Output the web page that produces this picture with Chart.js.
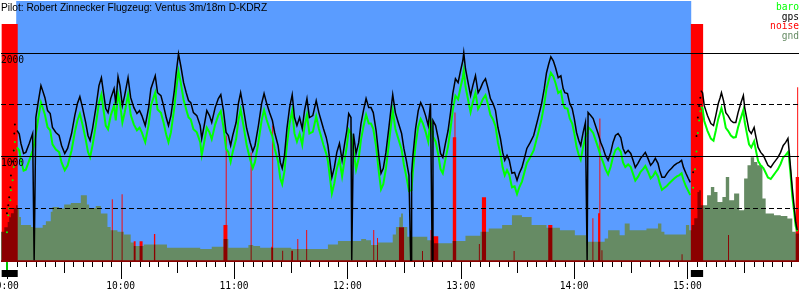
<!DOCTYPE html>
<html>
<head>
<meta charset="utf-8">
<script src="https://cdn.jsdelivr.net/npm/chart.js@4"></script>
<style>
  html, body { margin: 0; padding: 0; background: #fff; }
  #wrap { width: 800px; height: 300px; }
</style>
</head>
<body>
<div id="wrap"><canvas id="baro"></canvas></div>
<script>
// ===== DATA (time in minutes after midnight, altitude in m) =====
const times = [
  539.8,540.5,541.0,541.6,541.9,542.8,543.4,543.7,544.0,545.1,
  546.3,547.2,548.6,549.8,551.6,553.4,554.2,555.1,556.3,557.8,
  558.7,559.9,561.3,562.7,563.9,565.7,567.4,568.7,570.4,571.9,
  574.0,575.7,577.1,578.4,579.8,581.5,582.7,583.8,585.1,586.8,
  588.5,589.8,590.9,592.1,593.3,594.7,596.5,597.4,598.6,599.6,
  600.9,602.1,603.9,605.3,607.0,608.6,610.0,611.2,613.0,614.8,
  616.0,618.3,619.5,621.3,622.7,624.1,625.3,626.6,628.4,629.4,
  630.6,631.8,633.3,634.7,635.9,637.1,638.5,640.3,642.1,642.9,
  644.2,645.6,647.0,648.2,650.0,651.7,653.0,654.4,655.8,657.0,
  658.2,659.3,661.1,662.3,663.5,664.9,666.7,668.5,669.9,671.1,
  672.9,674.6,675.9,677.3,678.8,680.3,681.5,683.3,684.5,685.5,
  686.7,688.0,689.4,690.8,692.0,693.3,694.7,696.1,697.3,698.6,
  699.9,701.7,703.5,704.9,706.1,707.3,708.8,709.7,710.9,711.8,
  713.1,714.4,715.8,717.2,718.4,719.7,720.7,721.9,722.3,723.2,
  724.6,726.0,727.2,728.5,729.9,731.3,732.5,733.7,735.2,736.6,
  737.8,739.0,740.4,741.9,743.1,744.0,745.4,746.6,748.7,749.9,
  751.2,752.6,753.5,753.8,754.0,754.7,756.1,757.5,758.8,760.0,
  761.4,762.8,764.0,764.9,765.3,766.7,768.1,769.3,770.5,771.9,
  773.3,774.6,775.8,777.2,778.6,779.9,781.1,781.6,782.5,783.9,
  785.2,786.4,787.8,789.2,790.4,791.7,793.1,794.5,795.7,797.1,
  798.4,799.7,801.0,802.2,803.3,804.5,805.7,807.1,808.5,809.8,
  811.0,812.4,813.8,815.0,816.8,818.6,821.0,822.8,824.2,825.4,
  826.6,827.7,829.0,830.2,831.6,833.0,834.2,835.1,836.5,837.7,
  839.0,840.1,841.3,842.5,843.5,844.8,846.0,846.9,847.1,847.4,
  848.8,850.1,851.3,852.7,854.1,855.4,856.6,858.0,859.4,860.6,
  861.9,863.3,864.7,865.9,867.1,868.6,870.0,871.2,872.4,873.8,
  875.2,876.5,877.7,879.1,880.5,881.8,883.0,884.4,885.3,886.5,
  887.9,889.2,890.4,891.6,893.0,894.4,895.6,896.9,897.9,899.2,
  900.4,901.5,903.0,904.0,904.8,905.5,906.2,906.8,907.1,908.0,
  908.9,910.6,912.4,913.8,915.0,916.3,917.3,918.0,919.1,920.3,
  921.5,923.0,924.3,925.6,926.8,928.2,929.6,930.3,931.4,932.6,
  933.8,935.3,936.1,937.4,938.8,940.2,941.4,942.6,944.1,945.5,
  946.7,947.9,949.3,950.7,952.0,953.2,953.7,954.6,955.5,956.4,
  957.3,958.1
];
const gps = [
  455,532,609,705,820,955,1061,1224,1311,1253,
  1221,1128,1032,1042,1128,1224,0,1378,1522,1686,
  1638,1570,1445,1417,1282,1234,1205,1109,1032,1080,
  1224,1397,1513,1580,1474,1330,1205,1157,1272,1465,
  1686,1763,1618,1465,1426,1561,1657,1513,1772,1686,
  1493,1590,1763,1570,1474,1417,1445,1397,1301,1474,
  1657,1782,1618,1590,1493,1378,1301,1397,1638,1811,
  1993,1878,1715,1618,1542,1522,1426,1397,1301,1176,
  1301,1445,1397,1330,1474,1561,1599,1445,1234,1205,
  1109,1205,1330,1513,1618,1474,1272,1138,1051,1109,
  1301,1513,1609,1513,1426,1349,1234,1109,945,888,
  1013,1272,1474,1599,1378,1301,1378,1272,1445,1561,
  1378,1397,1542,1426,1349,1272,1186,1109,936,801,
  897,1042,1128,965,1109,1253,1416,1378,0,1224,
  1032,1138,1320,1445,1561,1474,1474,1426,1253,1013,
  840,888,1042,1272,1465,1599,1426,1349,1224,1080,
  965,820,0,0,840,1013,1272,1445,1522,1474,
  1397,1301,1513,0,1349,1301,1176,1032,993,1128,
  1253,1426,1609,1753,1715,1830,1926,2003,1849,1715,
  1590,1686,1782,1618,1657,1715,1753,1657,1561,1513,
  1445,1282,1176,1042,965,1013,965,840,849,772,
  840,897,993,1080,1138,1205,1378,1513,1657,1811,
  1897,1965,1926,1859,1763,1782,1657,1618,1609,1513,
  1465,1368,1234,1157,1109,1234,1330,0,0,1426,
  1397,1368,1301,1224,1138,1080,1013,965,1042,1138,
  1205,1224,1186,1080,1032,1061,1032,965,897,936,
  984,1013,1042,984,917,945,984,936,868,801,
  801,840,868,888,917,936,945,965,897,840,
  792,753,850,1000,1200,1378,1490,1570,1638,1618,
  1493,1397,1320,1301,1397,1513,1570,1618,1542,1426,
  1397,1349,1330,1330,1426,1513,1590,1474,1368,1253,
  1224,1282,1205,1090,1042,1013,965,917,897,936,
  965,993,1042,1109,1138,1176,1080,888,695,532,
  368,292
];
const baro = [
  270,436,500,580,676,772,900,1060,1141,1090,
  1060,965,865,875,965,1060,1120,1215,1360,1525,
  1475,1405,1285,1255,1120,1070,1045,945,870,915,
  1060,1235,1350,1415,1310,1165,1045,995,1110,1300,
  1520,1600,1455,1300,1265,1395,1495,1350,1610,1520,
  1330,1425,1600,1405,1310,1255,1280,1235,1140,1310,
  1495,1620,1455,1425,1330,1215,1140,1235,1475,1650,
  1825,1715,1550,1455,1380,1360,1265,1235,1140,1015,
  1140,1280,1235,1170,1310,1400,1440,1285,1075,1045,
  950,1045,1170,1350,1455,1310,1110,975,890,950,
  1140,1350,1450,1355,1270,1195,1080,955,790,735,
  860,1115,1320,1445,1225,1145,1225,1115,1290,1405,
  1225,1240,1390,1270,1195,1115,1030,955,780,645,
  745,885,975,810,955,1100,1260,1225,1180,1070,
  875,985,1165,1290,1405,1320,1320,1270,1100,860,
  685,735,885,1115,1310,1445,1270,1195,1070,925,
  810,670,675,680,690,860,1115,1290,1365,1320,
  1240,1145,1355,1250,1195,1145,1020,880,840,975,
  1100,1270,1450,1590,1555,1670,1765,1830,1680,1550,
  1430,1525,1620,1460,1500,1555,1595,1500,1405,1360,
  1295,1135,1030,895,820,870,825,705,715,640,
  705,760,855,940,995,1060,1230,1365,1505,1655,
  1740,1810,1775,1710,1615,1635,1510,1470,1465,1370,
  1320,1225,1095,1015,970,1095,1190,1230,1240,1285,
  1260,1230,1165,1090,1005,945,880,830,905,1000,
  1065,1085,1050,945,900,925,900,835,770,805,
  855,880,910,855,790,815,855,810,745,680,
  700,720,745,765,790,810,820,840,775,715,
  670,630,700,880,1050,1230,1350,1440,1480,1470,
  1345,1250,1175,1155,1250,1365,1425,1470,1395,1280,
  1250,1205,1185,1190,1285,1370,1450,1335,1230,1120,
  1090,1150,1075,960,915,890,845,800,785,820,
  850,880,930,995,1015,1045,1000,830,620,480,
  330,280
];

// terrain below the track (stepped)
const gndT = [
  536.6,538.4,540.2,541.0,541.9,543.4,544.6,545.5,546.3,547.2,
  552.5,554.1,558.7,560.4,563.0,563.9,567.4,570.1,573.6,578.9,
  582.1,583.3,586.8,589.5,593.0,594.7,598.3,601.7,605.3,606.9,
  612.2,624.5,642.1,648.2,654.4,657.0,667.6,670.2,673.8,690.3,
  709.7,715.0,727.3,729.9,732.5,736.1,744.0,745.7,747.5,748.4,
  749.4,751.7,762.3,765.8,775.5,782.5,790.4,794.8,801.9,807.1,
  812.4,817.5,825.4,832.5,840.4,846.6,856.2,858.0,864.1,866.8,
  869.4,878.3,884.4,886.2,887.8,899.2,900.9,902.2,903.6,905.3,
  906.2,907.1,910.4,912.4,914.2,915.9,918.5,920.3,922.1,924.7,
  927.4,930.0,931.8,933.5,935.3,937.0,939.7,941.4,945.8,949.4,
  952.9,955.5,957.3,959.1
];
const gndV = [
  275,320,369,417,455,506,532,500,419,340,
  323,314,340,378,468,516,500,539,554,628,
  539,506,525,452,323,291,275,250,173,138,
  154,121,109,131,205,121,147,138,121,109,
  154,186,205,195,147,173,250,323,417,452,
  323,227,195,164,186,237,275,308,340,436,
  419,340,314,291,243,179,212,291,243,356,
  291,308,356,275,250,340,291,340,407,660,
  676,532,628,708,660,564,612,804,580,644,
  484,789,917,996,948,917,596,452,436,429,
  404,275,260,260
];

// engine noise level (stepped, 0..1000)
const noiseT = [
  536.6,537.0,545.5,595.3,595.8,600.5,601.0,606.9,607.9,610.0,
  611.6,617.6,618.3,654.4,655.6,656.1,656.5,668.8,669.3,679.7,
  680.2,680.7,685.5,686.0,690.3,691.2,693.5,694.0,698.2,698.7,
  733.7,734.2,735.7,736.2,747.3,750.0,759.5,760.0,764.0,765.3,
  768.1,775.8,776.7,777.2,777.6,789.6,790.1,791.2,793.4,808.0,
  808.5,826.3,828.5,849.7,850.2,852.7,853.4,853.9,854.5,855.0,
  896.9,897.4,901.8,908.3,921.5,922.0,957.3,958.1,958.6,959.1
];
const noiseV = [
  0,1000,0,258,0,279,0,81,0,81,
  0,111,0,149,528,149,0,456,0,57,
  570,0,40,0,40,0,90,0,128,0,
  128,0,94,0,140,0,39,0,128,102,
  0,520,625,520,0,69,0,267,0,39,
  0,149,0,178,0,199,600,0,43,0,
  26,0,1000,0,107,0,352,732,352,352
];

const dotRanges = [[539, 544.5], [902.5, 907]];   // sparse fixes while engine runs
const engineRuns = [[537.0, 545.5], [901.8, 908.3]];
const flightSpan = [544.7, 902.0];
const takeoff = 539.8;
const altGrid = [500, 1000, 1500, 2000];
const altLabels = [1000, 2000];
const legendKeys = ["baro", "gps", "noise", "gnd"];
const title = "Pilot: Robert Zinnecker Flugzeug: Ventus 3m/18m D-KDRZ";

// ===== CHART =====
const MONO = '9.6px "DejaVu Sans Mono"';
const pts = (xs, ys) => xs.map((x, i) => ({ x, y: ys[i] }));
const inDots = t => dotRanges.some(r => t >= r[0] && t <= r[1]);

function trace(label, vals, color, width, order) {
  return {
    label, data: pts(times, vals), yAxisID: "y", order,
    borderColor: color, borderWidth: width, tension: 0,
    pointRadius: c => (c.raw && inDots(c.raw.x) ? 1 : 0),
    pointBackgroundColor: color, pointBorderWidth: 0, pointHoverRadius: 0,
    segment: {
      borderColor: c => (inDots(c.p0.parsed.x) || inDots(c.p1.parsed.x) ? "transparent" : undefined)
    }
  };
}
function area(label, xs, ys, color, axis, order) {
  return {
    label, data: pts(xs, ys), yAxisID: axis, order,
    stepped: true, fill: "start", backgroundColor: color,
    borderWidth: 0, pointRadius: 0
  };
}

// gnd first, then dark noise only on gnd, then red noise behind everything
const layerOps = { 4: "source-atop", 3: "destination-over", 2: "source-over" };

const decor = {
  id: "decor",
  afterDatasetDraw(chart, args) {
    if (layerOps[args.index]) chart.ctx.globalCompositeOperation = layerOps[args.index];
  },
  afterDatasetsDraw(chart) {
    const { ctx, chartArea: a, scales: { x } } = chart;
    const x0 = x.getPixelForValue(flightSpan[0]);
    const x1 = x.getPixelForValue(flightSpan[1]);
    ctx.save();
    ctx.globalCompositeOperation = "destination-over";
    ctx.fillStyle = "#5a9cff";
    ctx.fillRect(x0, a.top, x1 - x0, a.bottom - a.top);
    ctx.restore();
  },
  afterDraw(chart) {
    const { ctx, chartArea: a, scales: { x, y } } = chart;
    ctx.save();

    // time ticks: 5 min / 30 min / hour
    ctx.strokeStyle = "#000";
    ctx.lineWidth = 1;
    ctx.beginPath();
    for (let t = Math.ceil(x.min / 5) * 5; t <= x.max; t += 5) {
      const px = Math.round(x.getPixelForValue(t)) + 0.5;
      const len = t % 60 === 0 ? 17 : t % 30 === 0 ? 11 : 5;
      ctx.moveTo(px, a.bottom);
      ctx.lineTo(px, a.bottom + len);
    }
    ctx.stroke();

    ctx.font = MONO;
    ctx.fillStyle = "#000";
    ctx.textAlign = "center";
    ctx.textBaseline = "middle";
    for (let t = Math.ceil(x.min / 60) * 60; t <= x.max; t += 60) {
      ctx.fillText(`${t / 60}:00`, x.getPixelForValue(t), a.bottom + 24);
    }

    // engine run markers and takeoff
    engineRuns.forEach(([s, e]) => {
      const p0 = x.getPixelForValue(s), p1 = x.getPixelForValue(e);
      ctx.fillRect(p0, a.bottom + 8, p1 - p0, 7);
    });
    ctx.strokeStyle = "#00c800";
    ctx.lineWidth = 2;
    ctx.beginPath();
    const tp = Math.round(x.getPixelForValue(takeoff));
    ctx.moveTo(tp, a.bottom);
    ctx.lineTo(tp, a.bottom + 8);
    ctx.stroke();

    // altitude labels
    ctx.textAlign = "left";
    altLabels.forEach(v => ctx.fillText(String(v), 1, y.getPixelForValue(v) + 7));

    // legend
    ctx.textAlign = "right";
    ctx.textBaseline = "alphabetic";
    legendKeys.forEach((k, i) => {
      const ds = chart.data.datasets.find(d => d.label === k);
      ctx.fillStyle = ds.borderWidth ? ds.borderColor : ds.backgroundColor;
      ctx.fillText(k, 799, 10 + i * 9.7);
    });

    // title
    ctx.textAlign = "left";
    ctx.fillStyle = "#000";
    ctx.font = '10.2px "Liberation Sans"';
    ctx.fillText(title, 1, 10.5);
    ctx.restore();
  }
};

new Chart(document.getElementById("baro"), {
  type: "line",
  data: {
    datasets: [
      trace("gps", gps, "#000000", 1.5, 1),
      trace("baro", baro, "#00ff00", 2, 2),
      area("noise", noiseT, noiseV, "#ff0000", "yn", 3),
      area("noise", noiseT, noiseV, "#8b0000", "yn", 4),
      area("gnd", gndT, gndV, "#668b64", "y", 5)
    ]
  },
  options: {
    responsive: true,
    maintainAspectRatio: false,
    devicePixelRatio: 1,
    animation: false,
    events: [],
    layout: { padding: { left: 0, right: 0, top: 0, bottom: 38 } },
    plugins: { legend: { display: false }, tooltip: { enabled: false } },
    scales: {
      x: { type: "linear", display: false, min: 536.65, max: 959.05 },
      y: {
        position: "left", min: -16, max: 2503,
        afterBuildTicks: s => { s.ticks = altGrid.map(v => ({ value: v })); },
        ticks: { display: false },
        grid: { z: 1, color: "#000", lineWidth: 1, drawTicks: false },
        border: { display: false, dash: c => (c.tick && c.tick.value % 1000 ? [5, 3] : []) }
      },
      yn: { display: false, min: -7.2, max: 1096.9 }
    }
  },
  plugins: [decor]
});
</script>
</body>
</html>
